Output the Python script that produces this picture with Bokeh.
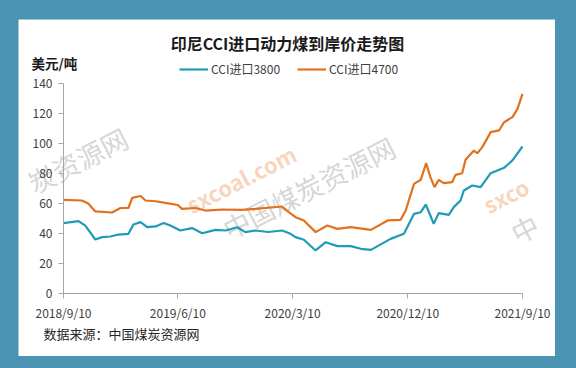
import datetime as dt
import math
from bokeh.plotting import figure
from bokeh.layouts import column
from bokeh.models import Range1d, Label, FixedTicker, Legend, LegendItem
from bokeh.embed import file_html
from bokeh.resources import INLINE

# ---------------- data ----------------
start_date = "2018-09-10"
tick_dates = ["2018-09-10", "2019-06-10", "2020-03-10", "2020-12-10", "2021-09-10"]
tick_labels = ["2018/9/10", "2019/6/10", "2020/3/10", "2020/12/10", "2021/9/10"]
y_ticks = [0, 20, 40, 60, 80, 100, 120, 140]

dates_4700 = ["2018-09-10", "2018-10-24", "2018-11-08", "2018-11-25", "2019-01-04", "2019-01-24",
              "2019-02-12", "2019-02-21", "2019-03-13", "2019-03-25", "2019-04-18", "2019-05-11",
              "2019-06-10", "2019-06-20", "2019-07-22", "2019-08-15", "2019-09-24", "2019-11-10",
              "2019-12-12", "2020-02-14", "2020-02-29", "2020-03-17", "2020-04-06", "2020-05-04",
              "2020-06-01", "2020-06-25", "2020-07-27", "2020-09-13", "2020-10-23", "2020-11-23",
              "2020-12-05", "2020-12-25", "2021-01-10", "2021-01-23", "2021-02-02", "2021-02-12",
              "2021-02-22", "2021-03-06", "2021-03-26", "2021-04-03", "2021-04-19", "2021-04-27",
              "2021-05-17", "2021-05-25", "2021-06-06", "2021-06-26", "2021-07-16", "2021-07-28",
              "2021-08-17", "2021-08-29", "2021-09-10"]
vals_4700 = [62.4, 62.0, 60.0, 54.7, 54.0, 57.0,
             57.0, 63.8, 65.0, 62.0, 61.5, 60.4,
             59.0, 56.4, 57.0, 55.3, 56.0, 55.8,
             56.4, 58.0, 54.4, 50.9, 48.7, 40.9,
             45.3, 43.1, 44.2, 42.4, 48.7, 49.1,
             55.3, 73.1, 75.8, 86.9, 77.6, 70.9,
             75.8, 73.6, 74.2, 79.1, 80.2, 89.1,
             95.3, 93.5, 97.6, 107.6, 108.7, 114.2,
             117.6, 123.1, 133.1]

dates_3800 = ["2018-09-10", "2018-10-16", "2018-11-01", "2018-11-25", "2018-12-11", "2018-12-31",
              "2019-01-19", "2019-02-12", "2019-02-24", "2019-03-13", "2019-03-29", "2019-04-18",
              "2019-05-07", "2019-05-23", "2019-06-16", "2019-07-14", "2019-08-07", "2019-09-08",
              "2019-10-02", "2019-10-30", "2019-11-18", "2019-12-12", "2020-01-12", "2020-02-14",
              "2020-03-05", "2020-03-17", "2020-04-06", "2020-05-04", "2020-05-28", "2020-06-25",
              "2020-07-27", "2020-08-20", "2020-09-13", "2020-10-30", "2020-12-01", "2020-12-25",
              "2021-01-10", "2021-01-22", "2021-02-02", "2021-02-10", "2021-02-22", "2021-03-18",
              "2021-03-30", "2021-04-15", "2021-04-23", "2021-05-13", "2021-06-02", "2021-06-26",
              "2021-07-28", "2021-08-17", "2021-09-10"]
vals_3800 = [46.9, 48.2, 45.3, 36.0, 37.6, 38.0,
             39.3, 39.8, 46.0, 47.6, 44.2, 44.7,
             47.0, 45.3, 42.0, 43.6, 40.2, 42.4,
             42.0, 44.2, 40.9, 42.0, 41.0, 42.0,
             39.8, 37.6, 35.8, 28.7, 34.2, 31.6,
             31.6, 29.8, 29.1, 36.4, 39.8, 53.1,
             54.2, 59.3, 52.0, 46.4, 53.6, 52.4,
             57.6, 62.0, 68.7, 72.0, 70.9, 80.2,
             83.8, 88.7, 98.0]

series_names = ["CCI进口3800", "CCI进口4700"]
title_text = "印尼CCI进口动力煤到岸价走势图"
unit_text = "美元/吨"
source_text = "数据来源：中国煤炭资源网"
# visible parts of the background watermarks
wm_texts = ["炭资源网", "sxcoal.com", "中国煤炭资源网", "sxco", "中"]

# ---------------- helpers ----------------
d0 = dt.date.fromisoformat(start_date)


def to_days(s):
    return (dt.date.fromisoformat(s) - d0).days


x_4700 = [to_days(s) for s in dates_4700]
x_3800 = [to_days(s) for s in dates_3800]
tick_x = [to_days(s) for s in tick_dates]

# layout (pixels inside the white panel)
PW, PH = 537, 337               # white chart panel
AX_L, AX_R = 45, 504            # x pixel of first / last x tick
AX_B, AX_T = 274, 64            # y pixel (from top) of y=0 / y=140
kx = (AX_R - AX_L) / (tick_x[-1] - tick_x[0])
ky = (AX_B - AX_T) / (y_ticks[-1] - y_ticks[0])
x_start = tick_x[0] - AX_L / kx
x_end = tick_x[-1] + (PW - AX_R) / kx
y_start = y_ticks[0] - (PH - AX_B) / ky
y_end = y_ticks[-1] + AX_T / ky

BLUE_BG = "#4b93b2"
C3800 = "#1f9bb6"
C4700 = "#e2711d"
FONT = "Noto Sans CJK SC"

p = figure(width=PW, height=PH, output_backend="svg", toolbar_location=None,
           x_range=Range1d(x_start, x_end), y_range=Range1d(y_start, y_end),
           min_border_left=0, min_border_right=0, min_border_top=0, min_border_bottom=0)
p.margin = (19, 21, 12, 18)
p.border_fill_color = "white"
p.background_fill_color = "white"
p.outline_line_color = None
p.xgrid.grid_line_color = None
p.ygrid.grid_line_color = None

for ax in (p.xaxis[0], p.yaxis[0]):
    ax.axis_line_color = "#a6a6a6"
    ax.major_tick_line_color = "#a6a6a6"
    ax.minor_tick_line_color = None
    ax.major_tick_in = 0
    ax.major_tick_out = 5
    ax.major_label_text_font = FONT
    ax.major_label_text_font_size = "12px"
    ax.major_label_text_color = "#404040"
    ax.fixed_location = 0

p.xaxis.ticker = FixedTicker(ticks=tick_x)
p.xaxis.major_label_overrides = {t: l for t, l in zip(tick_x, tick_labels)}
p.xaxis.major_label_standoff = 5
p.xaxis.bounds = (tick_x[0], tick_x[-1])
p.yaxis.ticker = FixedTicker(ticks=y_ticks)
p.yaxis.major_label_standoff = 6
p.yaxis.bounds = (y_ticks[0], y_ticks[-1])

# watermarks (screen px from panel bottom-left)
wm_style = [
    (11, 172, "#c4c4c4", "27px", "normal"),
    (169, 151, "#f5c2a0", "22px", "bold"),
    (206, 126, "#c4c4c4", "27px", "normal"),
    (466, 151, "#f5c2a0", "22px", "bold"),
    (494, 122, "#c4c4c4", "27px", "normal"),
]
for txt, (x, y, col, fs, fstyle) in zip(wm_texts, wm_style):
    p.add_layout(Label(x=x, y=y, x_units="screen", y_units="screen", text=txt,
                       angle=math.radians(27), text_color=col, text_alpha=0.7,
                       text_font=FONT, text_font_size=fs, text_font_style=fstyle,
                       text_baseline="middle", text_align="left", level="underlay"))

r3800 = p.line(x_3800, vals_3800, line_color=C3800, line_width=2.2)
r4700 = p.line(x_4700, vals_4700, line_color=C4700, line_width=2.2)

legend = Legend(items=[LegendItem(label=series_names[0], renderers=[r3800]),
                       LegendItem(label=series_names[1], renderers=[r4700])],
                orientation="horizontal", location=(161, 279),
                padding=0, margin=0, spacing=17, glyph_width=29, glyph_height=14,
                label_height=14, label_standoff=3,
                label_text_font=FONT, label_text_font_size="12px",
                label_text_color="#404040", border_line_color=None,
                background_fill_alpha=0)
p.add_layout(legend, "center")

p.add_layout(Label(x=269, y=314, x_units="screen", y_units="screen", text=title_text,
                   text_font=FONT, text_font_size="16px", text_font_style="bold",
                   text_color="#1a1a1a", text_align="center", text_baseline="middle"))
p.add_layout(Label(x=13, y=294, x_units="screen", y_units="screen", text=unit_text,
                   text_font=FONT, text_font_size="13.5px", text_font_style="bold",
                   text_color="#1a1a1a", text_align="left", text_baseline="middle"))
p.add_layout(Label(x=25, y=23, x_units="screen", y_units="screen", text=source_text,
                   text_font=FONT, text_font_size="13px", text_color="#262626",
                   text_align="left", text_baseline="middle"))

root = column(p, width=576, height=368, styles={"background-color": BLUE_BG})

open("out.html", "w").write(file_html(root, INLINE))
